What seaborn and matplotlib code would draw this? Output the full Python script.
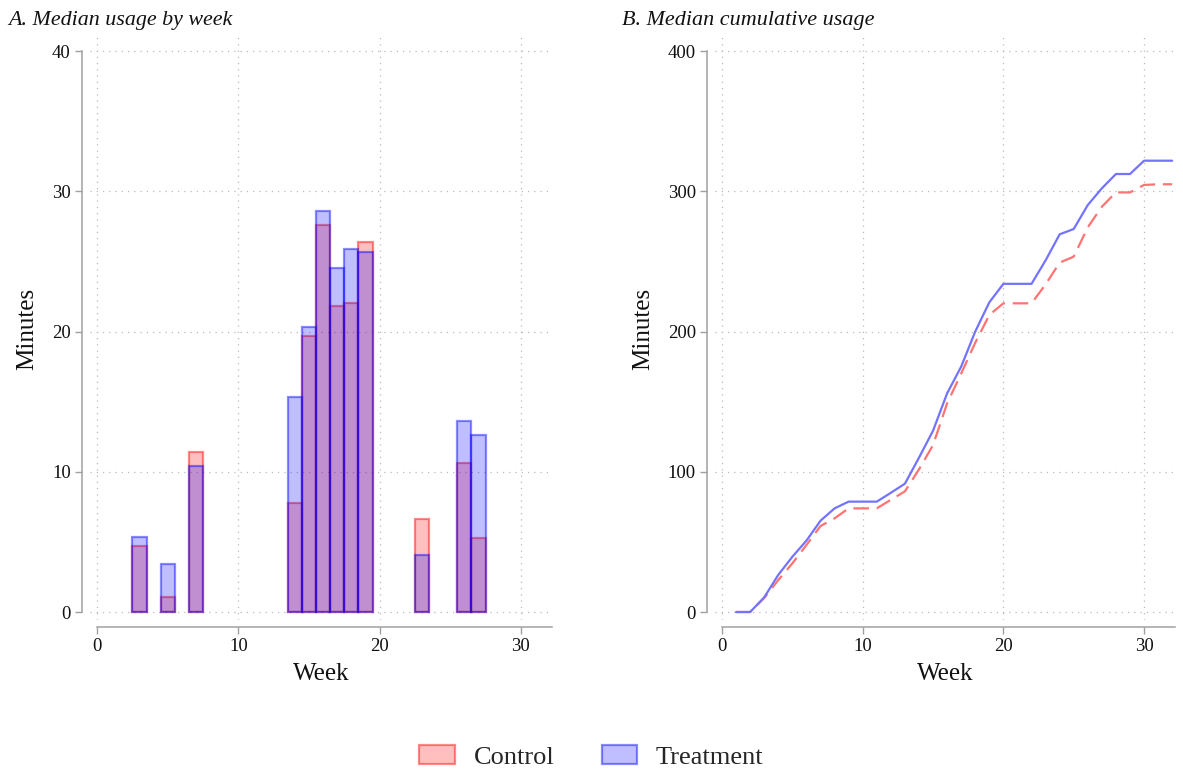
import numpy as np
import pandas as pd
import matplotlib
matplotlib.use("Agg")
import matplotlib.pyplot as plt
import seaborn as sns
from matplotlib.patches import Patch

# ---------------- data ----------------
bar_weeks = [3, 5, 7, 14, 15, 16, 17, 18, 19, 23, 26, 27]
control_weekly = [4.7, 1.1, 11.4, 7.75, 19.7, 27.6, 21.8, 22.05, 26.35, 6.6, 10.6, 5.3]
treatment_weekly = [5.35, 3.4, 10.4, 15.35, 20.35, 28.6, 24.5, 25.9, 25.7, 4.1, 13.6, 12.6]

line_weeks = list(range(1, 33))
control_cum = [0, 0, 10, 22.8, 34.7, 47.8, 61.3, 66.8, 73.9, 73.9, 73.9, 80, 86,
               101.7, 119, 148.8, 170, 192, 211.8, 220.1, 220.1, 220.1, 233.6,
               249.1, 253.4, 274.3, 289, 299.2, 299.2, 304.5, 305, 305]
treatment_cum = [0, 0, 10.5, 26.5, 39.4, 50.9, 65.1, 73.9, 78.7, 78.7, 78.7, 85, 91.5,
                 110, 129.3, 155.9, 175, 200, 220.8, 234, 234, 234, 250.7,
                 269.3, 273.1, 290.2, 302.1, 312.3, 312.3, 321.8, 321.8, 321.8]

x_ticks = [0, 10, 20, 30]
yticks_a = [0, 10, 20, 30, 40]
yticks_b = [0, 100, 200, 300, 400]
series_names = ["Control", "Treatment"]
panel_titles = ["A. Median usage by week", "B. Median cumulative usage"]

# ---------------- style ----------------
sns.set_theme(style="white")
plt.rcParams["font.family"] = ["Liberation Serif", "DejaVu Serif"]

RED_FACE = (1, 0, 0, 0.25)
RED_EDGE = (1, 0, 0, 0.45)
BLUE_FACE = (0, 0, 1, 0.25)
BLUE_EDGE = (0, 0, 1, 0.45)
RED_LINE = "#FF7373"
BLUE_LINE = "#7373FF"
SPINE = "#A0A0A0"
GRID = "#BBBBBB"

W, H = 1183, 772
fig = plt.figure(figsize=(W / 100, H / 100), dpi=100)

def frac_box(x0, y0, x1, y1):
    return [x0 / W, 1 - y1 / H, (x1 - x0) / W, (y1 - y0) / H]

ax1 = fig.add_axes(frac_box(90, 37, 552, 620))
ax2 = fig.add_axes(frac_box(715, 37, 1175, 620))

# ---------------- panel A: bars ----------------
df_c = pd.DataFrame({"week": bar_weeks, "val": control_weekly})
df_t = pd.DataFrame({"week": bar_weeks, "val": treatment_weekly})
sns.barplot(data=df_c, x="week", y="val", native_scale=True, width=1.0,
            color="red", saturation=1, ax=ax1, errorbar=None)
for p in ax1.containers[-1]:
    p.set_facecolor(RED_FACE)
    p.set_edgecolor(RED_EDGE)
    p.set_linewidth(1.6)
sns.barplot(data=df_t, x="week", y="val", native_scale=True, width=1.0,
            color="blue", saturation=1, ax=ax1, errorbar=None)
for p in ax1.containers[-1]:
    p.set_facecolor(BLUE_FACE)
    p.set_edgecolor(BLUE_EDGE)
    p.set_linewidth(1.6)

# ---------------- panel B: lines ----------------
df_l = pd.DataFrame({"week": line_weeks, "Control": control_cum, "Treatment": treatment_cum})
sns.lineplot(data=df_l, x="week", y="Control", ax=ax2, color=RED_LINE, lw=1.6,
             dashes=False, linestyle=(0, (7, 3.5)))
sns.lineplot(data=df_l, x="week", y="Treatment", ax=ax2, color=BLUE_LINE, lw=1.6)

# ---------------- axes styling ----------------
def style(ax, yticks, ylim):
    ax.set_xlim(-0.5, 32.2)
    ax.set_ylim(*ylim)
    ax.set_xticks(x_ticks)
    ax.set_yticks(yticks)
    ax.set_xticklabels([str(t) for t in x_ticks])
    ax.set_yticklabels([str(t) for t in yticks])
    ax.grid(True, linestyle=(0, (1, 4)), color=GRID, linewidth=0.9)
    ax.set_axisbelow(True)
    for s in ["top", "right"]:
        ax.spines[s].set_visible(False)
    ax.spines["left"].set_position(("outward", 5.8))
    ax.spines["bottom"].set_position(("outward", 5.0))
    ax.spines["left"].set_bounds(yticks[0], yticks[-1])
    ax.spines["bottom"].set_bounds(0, 32.2)
    for s in ["left", "bottom"]:
        ax.spines[s].set_color(SPINE)
        ax.spines[s].set_linewidth(1.1)
    ax.tick_params(axis="both", which="major", direction="out", length=5,
                   width=1.0, color=SPINE, labelsize=13.5, labelcolor="#111111",
                   left=True, bottom=True, pad=3)
    ax.set_xlabel("Week", fontsize=18, color="#111111", labelpad=6)
    ax.set_ylabel("Minutes", fontsize=18, color="#111111", labelpad=10)
    ax.patch.set_visible(False)

style(ax1, yticks_a, (-0.57, 41.0))
style(ax2, yticks_b, (-5.7, 410))

fig.text(8 / W, 1 - 20 / H, panel_titles[0], fontsize=15.8, style="italic",
         ha="left", va="center", color="#111111")
fig.text(622 / W, 1 - 20 / H, panel_titles[1], fontsize=15.9, style="italic",
         ha="left", va="center", color="#111111")

handles = [Patch(facecolor=RED_FACE, edgecolor=RED_EDGE, linewidth=1.6),
           Patch(facecolor=BLUE_FACE, edgecolor=BLUE_EDGE, linewidth=1.6)]
fig.legend(handles, series_names, loc="center", bbox_to_anchor=(0.5, 1 - 757 / H),
           ncol=2, frameon=False, fontsize=19, handlelength=1.35, handleheight=0.7,
           columnspacing=1.8, handletextpad=0.7)

fig.savefig("out.png", dpi=100)
